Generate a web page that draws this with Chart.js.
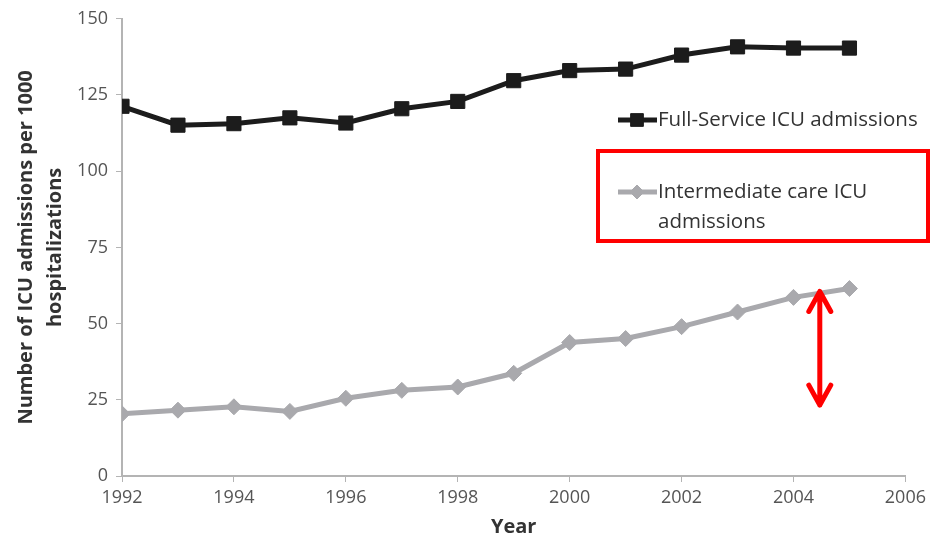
<!DOCTYPE html>
<html>
<head>
<meta charset="utf-8">
<script src="https://cdn.jsdelivr.net/npm/chart.js@4/dist/chart.umd.min.js"></script>
<style>
  html, body { margin: 0; padding: 0; background: #fff; }
  #wrap { width: 931px; height: 536px; }
</style>
</head>
<body>
<div id="wrap"><canvas id="icuChart" width="931" height="536"></canvas></div>
<script>
// ===== Data =====
const years = [1992, 1993, 1994, 1995, 1996, 1997, 1998, 1999, 2000, 2001, 2002, 2003, 2004, 2005];
const fullService = [121.3, 115.1, 115.6, 117.5, 115.8, 120.5, 122.9, 129.7, 133.0, 133.5, 138.1, 140.8, 140.4, 140.4];
const intermediate = [20.4, 21.6, 22.7, 21.2, 25.5, 28.1, 29.2, 33.7, 43.8, 45.1, 49.0, 53.8, 58.6, 61.5];
const seriesNames = ["Full-Service ICU admissions", "Intermediate care ICU admissions"];
const xTicks = [1992, 1994, 1996, 1998, 2000, 2002, 2004, 2006];
const yTicks = [0, 25, 50, 75, 100, 125, 150];

// arrow marking the gap at the right end (year, from, to)
const gapArrow = { year: 2004.47, from: 61.2, to: 22.6 };

const FONT = "'Open Sans', sans-serif";
const BLACK = "#1c1c1c";
const GREY = "#a9a9ad";

// ===== Legend + highlight box + arrow drawn on top =====
const overlayPlugin = {
    id: "overlay",
    afterDraw(chart) {
        const ctx = chart.ctx;
        const { x, y } = chart.scales;
        ctx.save();

        // legend entries
        const entries = [
            { ds: chart.data.datasets[0], lines: ["Full-Service ICU admissions"], y: 120 },
            { ds: chart.data.datasets[1], lines: ["Intermediate care ICU", "admissions"], y: 192 }
        ];
        entries.forEach(e => {
            ctx.strokeStyle = e.ds.borderColor;
            ctx.lineWidth = 5;
            ctx.beginPath();
            ctx.moveTo(618, e.y);
            ctx.lineTo(657, e.y);
            ctx.stroke();
            ctx.fillStyle = e.ds.pointBackgroundColor;
            ctx.strokeStyle = e.ds.pointBorderColor;
            ctx.lineWidth = 1;
            Chart.helpers.drawPoint(ctx, {
                pointStyle: e.ds.pointStyle,
                radius: e.ds.pointRadius - 1,
                borderWidth: 1
            }, 637, e.y);
            ctx.fillStyle = "#333";
            ctx.font = "20.5px " + FONT;
            ctx.textBaseline = "middle";
            ctx.textAlign = "left";
            e.lines.forEach((t, i) => ctx.fillText(t, 658, e.y + i * 30));
        });

        // red box round the second entry
        ctx.strokeStyle = "#ff0000";
        ctx.lineWidth = 4;
        ctx.strokeRect(598, 151, 330, 90);

        // red double-headed arrow
        const ax = x.getPixelForValue(gapArrow.year);
        const top = y.getPixelForValue(gapArrow.from);
        const bot = y.getPixelForValue(gapArrow.to);
        ctx.lineWidth = 5;
        ctx.lineCap = "round";
        ctx.lineJoin = "round";
        ctx.beginPath();
        ctx.moveTo(ax, top + 2);
        ctx.lineTo(ax, bot - 2);
        ctx.moveTo(ax - 11, top + 22);
        ctx.lineTo(ax, top + 2);
        ctx.lineTo(ax + 11, top + 22);
        ctx.moveTo(ax - 11, bot - 22);
        ctx.lineTo(ax, bot - 2);
        ctx.lineTo(ax + 11, bot - 22);
        ctx.stroke();

        ctx.restore();
    }
};

const ctx = document.getElementById("icuChart");
new Chart(ctx, {
    type: "line",
    data: {
        datasets: [
            {
                label: seriesNames[0],
                data: years.map((yr, i) => ({ x: yr, y: fullService[i] })),
                borderColor: BLACK,
                borderWidth: 5,
                pointStyle: "rect",
                pointRadius: 10,
                pointBackgroundColor: BLACK,
                pointBorderColor: BLACK,
                pointBorderWidth: 1
            },
            {
                label: seriesNames[1],
                data: years.map((yr, i) => ({ x: yr, y: intermediate[i] })),
                borderColor: GREY,
                borderWidth: 5,
                pointStyle: "rectRot",
                pointRadius: 8,
                pointBackgroundColor: GREY,
                pointBorderColor: GREY,
                pointBorderWidth: 1
            }
        ]
    },
    options: {
        responsive: false,
        animation: false,
        layout: { padding: { top: 18, left: 8, right: 0, bottom: 0 } },
        plugins: {
            legend: { display: false },
            tooltip: { enabled: false }
        },
        scales: {
            x: {
                type: "linear",
                min: 1992,
                max: 2006,
                afterBuildTicks: s => { s.ticks = xTicks.map(v => ({ value: v })); },
                afterFit: s => { s.height = 60; },
                ticks: {
                    color: "#555",
                    font: { family: FONT, size: 18 },
                    padding: 5,
                    maxRotation: 0,
                    callback: v => String(v)
                },
                grid: { drawOnChartArea: false, drawTicks: true, tickLength: 6, color: "#b4b4b4" },
                border: { color: "#b4b4b4", width: 2 },
                title: {
                    display: true,
                    text: "Year",
                    color: "#333",
                    font: { family: FONT, size: 20, weight: "bold" },
                    padding: { top: 0, bottom: -3 }
                }
            },
            y: {
                min: 0,
                max: 150,
                afterBuildTicks: s => { s.ticks = yTicks.map(v => ({ value: v })); },
                afterFit: s => { s.width = 114; },
                ticks: { color: "#555", font: { family: FONT, size: 18 }, padding: 8 },
                grid: { drawOnChartArea: false, drawTicks: true, tickLength: 6, color: "#b4b4b4" },
                border: { color: "#b4b4b4", width: 2 },
                title: {
                    display: true,
                    text: ["Number of ICU admissions per 1000", "hospitalizations"],
                    color: "#333",
                    font: { family: FONT, size: 20, weight: "bold", lineHeight: 1.45 },
                    padding: { top: 4, bottom: 0 }
                }
            }
        }
    },
    plugins: [overlayPlugin]
});
</script>
</body>
</html>
